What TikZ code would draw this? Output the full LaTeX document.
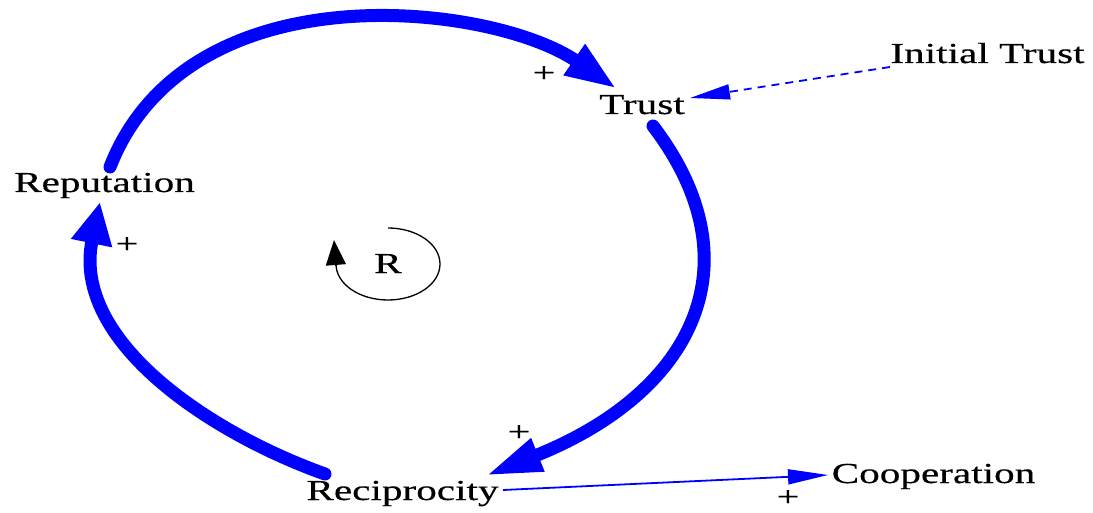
\documentclass[tikz,border=0pt]{standalone}
\usepackage{fontspec}
\setmainfont{Liberation Serif}[FakeStretch=1.42,FakeBold=0.4]
\usetikzlibrary{arrows.meta}
\definecolor{loopblue}{RGB}{0,0,255}
\begin{document}
\begin{tikzpicture}[x=1pt,y=-1pt,
  lbl/.style={anchor=base,inner sep=0pt,font=\fontsize{29}{32}\selectfont},
  pls/.style={inner sep=0pt,font=\fontsize{28}{30}\selectfont},
  bigarc/.style={draw=loopblue,line width=13pt,line cap=round},
  thinlink/.style={draw=loopblue,line width=1.8pt},
  bighead/.style={-{Triangle[length=52pt,width=34pt]}},
  smallhead/.style={-{Triangle[length=40pt,width=15pt]}}]
\useasboundingbox (0,0) rectangle (1093,513);
% variables
\node[lbl] (trust) at (642,114) {Trust};
\node[lbl] (rep) at (104.5,192) {Reputation};
\node[lbl] (init) at (987.5,63) {Initial Trust};
\node[lbl] (recip) at (402.5,500) {Reciprocity};
\node[lbl] (coop) at (933.5,483) {Cooperation};
\node[lbl] (loopR) at (388,273) {R};
% polarity signs
\node[pls] (p1) at (544,74) {+};
\node[pls] (p2) at (127,245) {+};
\node[pls] (p3) at (519,433) {+};
\node[pls] (p4) at (788,498) {+};
% reinforcing loop
\draw[bigarc,bighead] ([shift={(5.5,-25)}]rep.base)
  .. controls +(78,-200) and +(-125,-86) .. ([shift={(-25,-25)}]trust.base);
\draw[bigarc,-{Triangle[length=57pt,width=32pt]}] ([shift={(11,12)}]trust.base)
  .. controls +(103,135) and +(212,-85) .. ([shift={(82.5,-24)}]recip.base);
\draw[bigarc,-{Triangle[length=42pt,width=39pt]}] ([shift={(-77.5,-26)}]recip.base)
  .. controls +(-115.5,-41.2) and +(-28.5,138.7) .. ([shift={(-4.5,10)}]rep.base);
% other links
\draw[thinlink,dash pattern=on 8pt off 6pt,smallhead] ([shift={(-97.5,4)}]init.base) -- ([shift={(48,-16)}]trust.base);
\draw[thinlink,smallhead] ([shift={(100.5,-10)}]recip.base) -- ([shift={(-105.5,-8)}]coop.base);
% loop symbol
\draw[line width=1.3pt] (388,228) arc[start angle=90,end angle=-180,x radius=52pt,y radius=36pt];
\draw[line width=1.3pt,-{Triangle[length=25pt,width=20pt]}] (336,266) -- (334,240);
\end{tikzpicture}
\end{document}
